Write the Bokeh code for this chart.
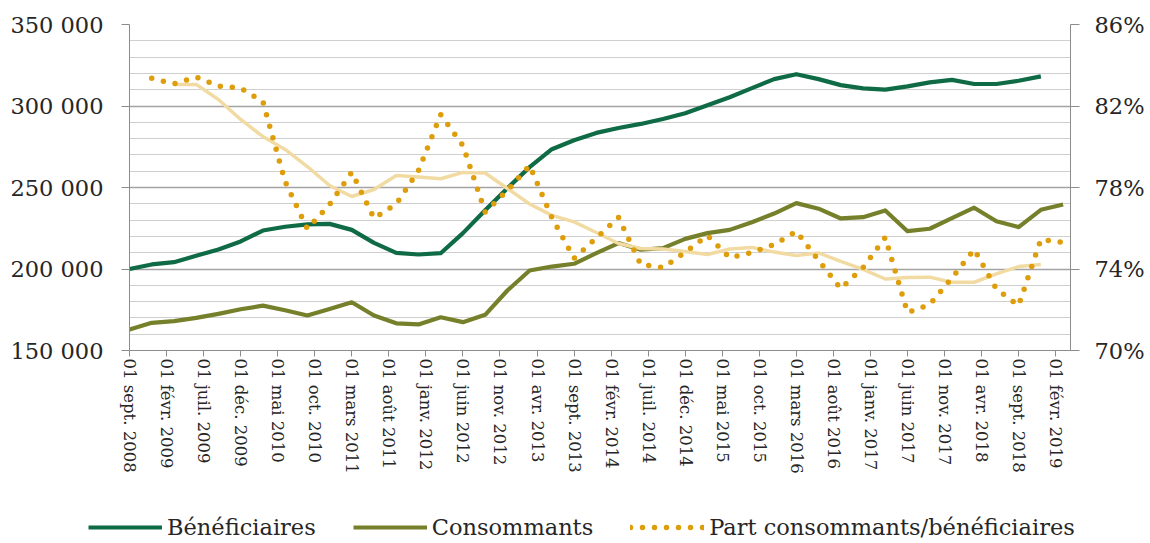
from bokeh.plotting import figure
from bokeh.models import (Range1d, LinearAxis, FixedTicker, SingleIntervalTicker,
                          Legend, LegendItem, ColumnDataSource)
from bokeh.embed import file_html
from bokeh.resources import INLINE

NaN = float("nan")

# Quarterly observations: months elapsed since 01 sept. 2008
months = [0, 3, 6, 9, 12, 15, 18, 21, 24, 27, 30, 33, 36, 39, 42, 45, 48, 51, 54, 57,
          60, 63, 66, 69, 72, 75, 78, 81, 84, 87, 90, 93, 96, 99, 102, 105, 108, 111,
          114, 117, 120, 123, 126]

beneficiaires = [200000, 202800, 204200, 208100, 212000, 216900, 223600, 225900, 227400,
                 227700, 224000, 216000, 209900, 208900, 209700, 222000, 236000, 249500,
                 262500, 273500, 279000, 283500, 286500, 289000, 292000, 295500, 300500,
                 305400, 311000, 316500, 319500, 316500, 312800, 310800, 310000, 312000,
                 314500, 316000, 313500, 313500, 315500, 318200, NaN]

consommants = [162900, 167000, 168000, 170000, 172500, 175300, 177500, 174700, 171500,
               175500, 179600, 171500, 166700, 166000, 170400, 167400, 171900, 186800,
               199100, 201500, 203200, 209700, 215900, 211800, 212800, 218500, 222000,
               224000, 228700, 234000, 240400, 237000, 231000, 231800, 235900, 223200,
               224700, 231200, 237600, 229300, 225700, 236300, 239600]

part = [NaN, 83.36, 83.09, 83.42, 82.98, 82.88, 82.22, 78.29, 75.97, 77.17, 78.75, 76.49,
        77.19, 78.83, 81.58, 80.06, 76.80, 77.85, 79.08, 76.53, 74.52, 75.52, 76.53, 74.22,
        74.07, 74.82, 75.64, 74.56, 74.81, 75.20, 75.84, 74.42, 73.04, 74.07, 75.55, 71.86,
        72.26, 73.56, 74.96, 73.02, 72.21, 75.45, 75.30]

tendance = [NaN, NaN, 83.06, 83.06, 82.32, 81.34, 80.50, 79.87, 79.03, 78.10, 77.56, 77.90,
            78.59, 78.52, 78.43, 78.74, 78.71, 77.95, 77.19, 76.63, 76.31, 75.79, 75.25,
            75.01, 74.98, 74.86, 74.71, 74.98, 75.06, 74.83, 74.66, 74.79, 74.37, 73.98,
            73.51, 73.58, 73.60, 73.35, 73.35, 73.76, 74.12, 74.22, NaN]

x_tick_months = [0, 5, 10, 15, 20, 25, 30, 35, 40, 45, 50, 55, 60, 65, 70, 75, 80, 85,
                 90, 95, 100, 105, 110, 115, 120, 125]
x_tick_labels = ["01 sept. 2008", "01 févr. 2009", "01 juil. 2009", "01 déc. 2009",
                 "01 mai 2010", "01 oct. 2010", "01 mars 2011", "01 août 2011",
                 "01 janv. 2012", "01 juin 2012", "01 nov. 2012", "01 avr. 2013",
                 "01 sept. 2013", "01 févr. 2014", "01 juil. 2014", "01 déc. 2014",
                 "01 mai 2015", "01 oct. 2015", "01 mars 2016", "01 août 2016",
                 "01 janv. 2017", "01 juin 2017", "01 nov. 2017", "01 avr. 2018",
                 "01 sept. 2018", "01 févr. 2019"]

y_left_ticks = [150000, 200000, 250000, 300000, 350000]
y_left_labels = ["150 000", "200 000", "250 000", "300 000", "350 000"]
y_right_ticks = [70, 74, 78, 82, 86]
y_right_labels = ["70%", "74%", "78%", "82%", "86%"]

series_names = ["Bénéficiaires", "Consommants", "Part consommants/bénéficiaires"]

FONT = "DejaVu Serif"
TXT = "#262626"
AXIS = "#8C8C8C"
C_BEN = "#0F6B45"
C_CON = "#76802A"
C_PART = "#DE9D0A"
C_TREND = "#F2DBA3"

src = ColumnDataSource(dict(m=months, b=beneficiaires, c=consommants, p=part, t=tendance))

p = figure(width=1150, height=480, output_backend="svg", toolbar_location=None,
           x_range=Range1d(0, 127), y_range=Range1d(150000, 350000),
           min_border_left=129, min_border_right=80, min_border_top=24,
           min_border_bottom=130)
p.outline_line_color = None
p.background_fill_color = "white"
p.border_fill_color = "white"

p.extra_y_ranges = {"pct": Range1d(70, 86)}

# grid
p.xgrid.grid_line_color = None
p.ygrid.ticker = SingleIntervalTicker(interval=50000, num_minor_ticks=5)
p.ygrid.grid_line_color = "#A3A3A3"
p.ygrid.grid_line_width = 1.3
p.ygrid.minor_grid_line_color = "#CFCFCF"
p.ygrid.minor_grid_line_width = 1.2

# left axis
ya = p.yaxis[0]
ya.ticker = FixedTicker(ticks=y_left_ticks)
ya.major_label_overrides = dict(zip(y_left_ticks, y_left_labels))
ya.axis_line_color = AXIS
ya.major_tick_line_color = AXIS
ya.major_tick_out = 8
ya.major_tick_in = 0
ya.minor_tick_line_color = None
ya.major_label_standoff = 18
ya.major_label_text_font = FONT
ya.major_label_text_font_size = "22.5px"
ya.major_label_text_color = TXT

# right axis
ra = LinearAxis(y_range_name="pct", ticker=FixedTicker(ticks=y_right_ticks))
ra.major_label_overrides = dict(zip(y_right_ticks, y_right_labels))
ra.axis_line_color = AXIS
ra.major_tick_line_color = AXIS
ra.major_tick_out = 9
ra.major_tick_in = 0
ra.minor_tick_line_color = None
ra.major_label_standoff = 15
ra.major_label_text_font = FONT
ra.major_label_text_font_size = "22.5px"
ra.major_label_text_color = TXT
p.add_layout(ra, "right")

# bottom axis
xa = p.xaxis[0]
xa.ticker = FixedTicker(ticks=x_tick_months)
xa.major_label_overrides = dict(zip(x_tick_months, x_tick_labels))
xa.major_label_orientation = "vertical"
xa.axis_line_color = AXIS
xa.major_tick_line_color = AXIS
xa.major_tick_out = 6
xa.major_tick_in = 0
xa.minor_tick_line_color = None
xa.major_label_standoff = 2
xa.major_label_text_font = FONT
xa.major_label_text_font_size = "16.5px"
xa.major_label_text_color = TXT

# series
p.line("m", "b", source=src, line_color=C_BEN, line_width=4.2, line_join="round")
p.line("m", "c", source=src, line_color=C_CON, line_width=4.2, line_join="round")
p.line("m", "t", source=src, y_range_name="pct", line_color=C_TREND, line_width=3.5,
       line_join="round")
p.line("m", "p", source=src, y_range_name="pct", line_color=C_PART, line_width=5.5,
       line_dash="0 12", line_cap="round")

# legend strip under the chart (separate root, so its frame spans the full width)
lf = figure(width=1150, height=63, output_backend="svg", toolbar_location=None,
            x_range=Range1d(0, 1), y_range=Range1d(0, 1),
            x_axis_type=None, y_axis_type=None,
            min_border_left=0, min_border_right=0, min_border_top=0, min_border_bottom=0)
lf.outline_line_color = None
lf.xgrid.visible = False
lf.ygrid.visible = False
placeholder = ColumnDataSource(dict(x=[NaN], y=[NaN]))
g_b = lf.line("x", "y", source=placeholder, line_color=C_BEN, line_width=4.2)
g_c = lf.line("x", "y", source=placeholder, line_color=C_CON, line_width=4.2)
g_p = lf.line("x", "y", source=placeholder, line_color=C_PART, line_width=5.5,
              line_dash="0 12", line_cap="round")

legend = Legend(items=[LegendItem(label=series_names[0], renderers=[g_b]),
                       LegendItem(label=series_names[1], renderers=[g_c]),
                       LegendItem(label=series_names[2], renderers=[g_p])],
                orientation="horizontal", location=(88, 3),
                glyph_width=74, glyph_height=20, label_height=20, label_standoff=5,
                spacing=37, padding=0, margin=0,
                label_text_font=FONT, label_text_font_size="22.5px",
                label_text_color=TXT, border_line_color=None, background_fill_alpha=0)
lf.add_layout(legend, "center")

open("out.html", "w").write(file_html([p, lf], INLINE))
